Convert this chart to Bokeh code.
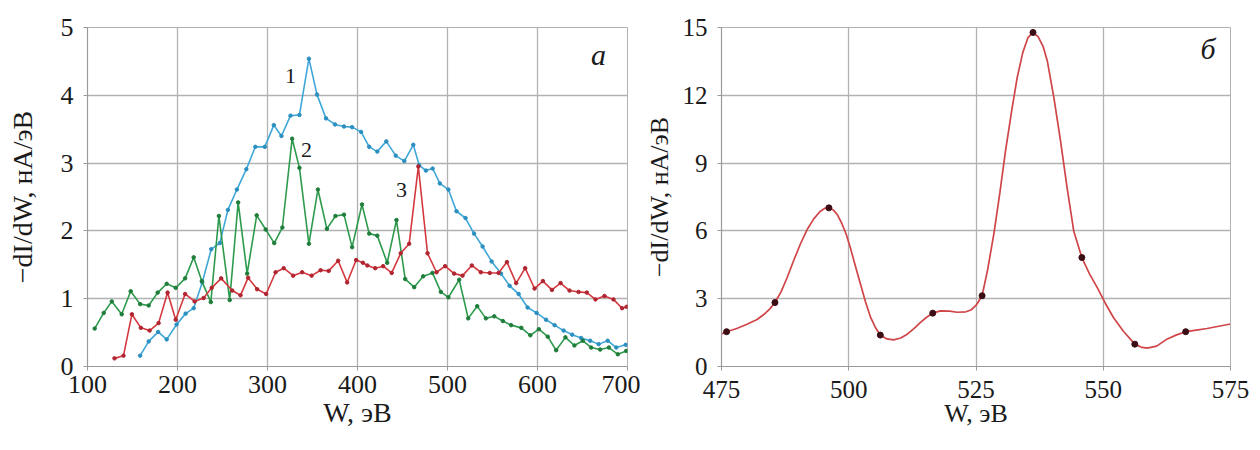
from bokeh.plotting import figure
from bokeh.models import FixedTicker, Label, Range1d
from bokeh.layouts import row
from bokeh.embed import file_html
from bokeh.resources import INLINE

SERIF = "Liberation Serif"

# ---------------- panel a ----------------
x_ticks_a = [100, 200, 300, 400, 500, 600, 700]
y_ticks_a = [0, 1, 2, 3, 4, 5]

blue_w = [158.5, 168, 178.5, 188, 199, 209, 218, 227.5, 237.5, 247, 256, 266, 276.5, 286.5,
          297, 307, 315.5, 325.5, 335.5, 346, 355, 365, 375, 385, 394, 404, 413, 422, 432,
          442.5, 452, 462, 468.5, 476, 483.5, 491.5, 501, 510, 520, 529.5, 539, 549, 559.5,
          569, 579, 589, 599, 609.5, 619, 629, 638.5, 648.5, 658.5, 668, 678, 687.5, 698]
blue_v = [0.16, 0.37, 0.51, 0.40, 0.62, 0.78, 0.86, 1.24, 1.73, 1.82, 2.31, 2.61, 2.91, 3.24,
          3.24, 3.56, 3.40, 3.70, 3.71, 4.54, 4.01, 3.66, 3.57, 3.54, 3.53, 3.46, 3.24, 3.17, 3.32,
          3.11, 3.03, 3.27, 2.97, 2.89, 2.92, 2.70, 2.61, 2.29, 2.19, 1.96, 1.77, 1.55, 1.37,
          1.19, 1.07, 0.87, 0.79, 0.69, 0.61, 0.53, 0.47, 0.42, 0.38, 0.33, 0.38, 0.28, 0.32]

green_w = [108, 118, 127, 138, 148, 158.5, 168, 178, 188, 198, 208.5, 218, 227, 237, 246, 258,
           267.4, 277.4, 288, 298, 307.5, 316.5, 327.4, 335.5, 346, 356, 366, 375.5, 385, 394,
           405, 413, 422, 433, 443.3, 453, 463, 473, 483.3, 492.6, 501, 513, 523, 533, 542.6,
           552, 561.5, 570.7, 582, 592, 601.5, 611.4, 620.7, 631, 641, 650.4, 659.6, 669.6,
           679.3, 689.3, 698.5]
green_v = [0.56, 0.79, 0.96, 0.77, 1.11, 0.92, 0.90, 1.09, 1.22, 1.16, 1.30, 1.61, 1.26, 0.95,
           2.22, 0.98, 2.42, 1.37, 2.23, 2.02, 1.82, 2.05, 3.36, 2.93, 1.81, 2.61, 2.03, 2.22,
           2.24, 1.76, 2.39, 1.96, 1.93, 1.53, 2.16, 1.29, 1.17, 1.33, 1.38, 1.10, 1.02, 1.28,
           0.71, 0.89, 0.71, 0.74, 0.67, 0.61, 0.57, 0.46, 0.55, 0.44, 0.24, 0.43, 0.31, 0.38,
           0.28, 0.25, 0.28, 0.18, 0.23]

red_w = [130, 140, 149.3, 159.3, 169, 179, 189, 198, 208.5, 219, 229, 238, 248.5, 260.8, 270,
         278.5, 288.5, 298.5, 309, 318, 328.5, 338.5, 349, 359, 368, 378.5, 388.5, 398.5, 406,
         411, 419.7, 428.5, 438, 448, 457.4, 467.6, 477.8, 487.8, 497.4, 507.4, 516.7, 527, 537,
         547, 556.7, 566, 576.3, 586.3, 596.7, 606, 616, 625.6, 635.6, 645.6, 654.8, 664.4,
         674.4, 684.4, 694, 699]
red_v = [0.12, 0.16, 0.77, 0.57, 0.53, 0.64, 1.09, 0.69, 1.07, 0.96, 1.01, 1.16, 1.30, 1.12, 1.05,
         1.31, 1.14, 1.07, 1.39, 1.45, 1.34, 1.39, 1.34, 1.42, 1.41, 1.56, 1.24, 1.57, 1.53,
         1.49, 1.45, 1.48, 1.38, 1.67, 1.81, 2.95, 1.67, 1.39, 1.48, 1.37, 1.34, 1.49, 1.39,
         1.38, 1.38, 1.54, 1.23, 1.45, 1.15, 1.26, 1.13, 1.23, 1.12, 1.10, 1.09, 0.99,
         1.04, 0.99, 0.86, 0.88]

curve_labels = ["1", "2", "3"]

# ---------------- panel б ----------------
x_ticks_b = [475, 500, 525, 550, 575]
y_ticks_b = [0, 3, 6, 9, 12, 15]

curve_w = [475, 476, 478, 480, 482, 483.3, 484.5, 485.5, 486.7, 487.9, 489.2, 490.5, 491.8,
           493.1, 494.3, 495.3, 496.1, 497.0, 497.8, 498.6, 499.5, 500.3, 501.3, 502.3, 503.3,
           504.3, 505.3, 506.2, 507.5, 508.8, 510.2, 511.5, 512.8, 514.1, 515.3, 516.5, 518.0,
           519.8, 521.3, 523.0, 524.0, 525.0, 526.2, 527.3, 528.5, 529.7, 530.8, 532.0, 533.1,
           534.2, 535.2, 536.2, 537.2, 538.2, 539.0, 540.3, 541.6, 542.9, 544.2, 545.8, 547.3,
           548.8, 550.4, 552.0, 554.0, 556.2, 557.4, 558.6, 560.5, 562.5, 564.4, 566.2, 568.3,
           570.4, 572.7, 575]
curve_v = [1.44, 1.54, 1.68, 1.87, 2.08, 2.30, 2.55, 2.83, 3.30, 3.94, 4.70, 5.42, 6.05,
           6.52, 6.85, 7.00, 7.02, 6.92, 6.70, 6.35, 5.85, 5.27, 4.45, 3.65, 2.85,
           2.17, 1.70, 1.39, 1.22, 1.18, 1.26, 1.43, 1.68, 1.95, 2.18, 2.36, 2.46,
           2.45, 2.40, 2.42, 2.50, 2.70, 3.13, 4.30, 5.86, 7.70, 9.54, 11.30, 12.79,
           13.90, 14.55, 14.78, 14.60, 14.15, 13.53, 11.90, 9.99, 7.90, 6.00, 4.82, 4.10,
           3.50, 2.80, 2.17, 1.55, 0.99, 0.86, 0.81, 0.90, 1.21, 1.40, 1.54, 1.61,
           1.68, 1.78, 1.88]

mark_w = [476.0, 485.5, 496.1, 506.2, 516.5, 526.2, 536.2, 545.8, 556.2, 566.2]
mark_v = [1.54, 2.83, 7.02, 1.39, 2.36, 3.13, 14.78, 4.82, 0.99, 1.54]

x_title = "W, эВ"
y_title = "−dI/dW, нА/эВ"

GRID = "#b2b2b2"
AXIS = "#9a9a9a"


def style(p, xt, yt, tick_size, title_size, xstand, ystand, xls, yls):
    p.xaxis.ticker = FixedTicker(ticks=xt)
    p.yaxis.ticker = FixedTicker(ticks=yt)
    for ax in (p.xaxis[0], p.yaxis[0]):
        ax.axis_line_color = AXIS
        ax.axis_line_width = 1.2
        ax.major_tick_line_color = AXIS
        ax.major_tick_out = 4
        ax.major_tick_in = 0
        ax.minor_tick_line_color = None
        ax.major_label_text_font = SERIF
        ax.major_label_text_font_size = tick_size
        ax.major_label_text_color = "#1a1a1a"
        ax.axis_label_text_font = SERIF
        ax.axis_label_text_font_size = title_size
        ax.axis_label_text_font_style = "normal"
        ax.axis_label_text_color = "#1a1a1a"
    p.xaxis.axis_label = x_title
    p.yaxis.axis_label = y_title
    p.xaxis.major_label_standoff = xstand
    p.yaxis.major_label_standoff = ystand
    p.xaxis.axis_label_standoff = xls
    p.yaxis.axis_label_standoff = yls
    p.grid.grid_line_color = GRID
    p.grid.grid_line_width = 1.3
    p.outline_line_color = GRID
    p.background_fill_color = "white"
    p.border_fill_color = "white"


def add_text(p, x, y, text, size, italic=False):
    p.add_layout(Label(x=x, y=y, text=text, text_align="center",
                       text_baseline="middle", text_font=SERIF,
                       text_font_size=size, text_color="#1a1a1a",
                       text_font_style="italic" if italic else "normal"))


# ---- figure a ----
pa = figure(width=640, height=450, x_range=Range1d(100, 700), y_range=Range1d(0, 5),
            min_border_left=87, min_border_right=13, min_border_top=17, min_border_bottom=83,
            output_backend="svg", toolbar_location=None)
style(pa, x_ticks_a, y_ticks_a, "26px", "28px", 5, 10, 1, 20)

pa.line(blue_w, blue_v, line_color="#3ea7d8", line_width=1.6)
pa.scatter(blue_w, blue_v, size=3.5, color="#2b8fc0")
pa.line(green_w, green_v, line_color="#2e9a4d", line_width=1.6)
pa.scatter(green_w, green_v, size=3.5, color="#1f7d3b")
pa.line(red_w, red_v, line_color="#d4383f", line_width=1.6)
pa.scatter(red_w, red_v, size=3.5, color="#b02530")

add_text(pa, 325.6, 4.29, curve_labels[0], "22px")
add_text(pa, 343.3, 3.20, curve_labels[1], "22px")
add_text(pa, 449.0, 2.60, curve_labels[2], "22px")
add_text(pa, 667.8, 4.60, "а", "30px", italic=True)

# ---- figure б ----
pb = figure(width=620, height=450, x_range=Range1d(475, 575), y_range=Range1d(0, 15),
            min_border_left=81, min_border_right=30, min_border_top=27, min_border_bottom=84,
            output_backend="svg", toolbar_location=None)
style(pb, x_ticks_b, y_ticks_b, "25px", "26px", 10, 10, -2, 6)

pb.line(curve_w, curve_v, line_color="#cf4548", line_width=1.7)
pb.scatter(mark_w, mark_v, size=6, color="#3b0d14")

add_text(pb, 570.6, 14.06, "б", "30px", italic=True)

layout = row(pa, pb)
open("out.html", "w").write(file_html(layout, INLINE))
